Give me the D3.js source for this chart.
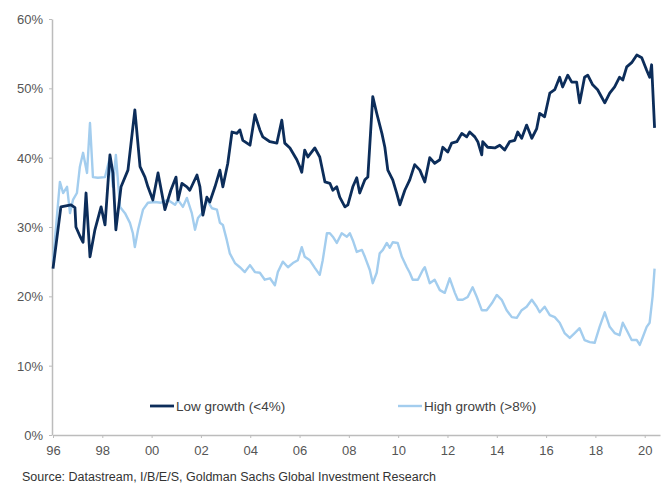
<!DOCTYPE html>
<html>
<head>
<meta charset="utf-8">
<script src="https://cdn.jsdelivr.net/npm/d3@7"></script>
<style>
  body { margin: 0; background: #fff; }
  text { font-family: "Liberation Sans", Arial, sans-serif; }
</style>
</head>
<body>
<svg id="chart"></svg>
<script>
// Low growth (<4%) share
const lowYears = [1996.00, 1996.32, 1996.73, 1996.89, 1996.93, 1997.09, 1997.22, 1997.34, 1997.50, 1997.70,
  1997.95, 1998.11, 1998.31, 1998.43, 1998.55, 1998.76, 1999.04, 1999.32, 1999.53, 1999.73,
  1999.85, 2000.05, 2000.26, 2000.54, 2000.78, 2000.99, 2001.07, 2001.23, 2001.43, 2001.55,
  2001.84, 2001.96, 2002.08, 2002.24, 2002.36, 2002.57, 2002.77, 2002.89, 2003.09, 2003.26,
  2003.46, 2003.58, 2003.70, 2003.99, 2004.19, 2004.39, 2004.51, 2004.80, 2005.08, 2005.28,
  2005.40, 2005.61, 2005.89, 2006.01, 2006.09, 2006.21, 2006.34, 2006.62, 2006.82, 2007.03,
  2007.23, 2007.35, 2007.51, 2007.63, 2007.84, 2007.96, 2008.16, 2008.32, 2008.44, 2008.65,
  2008.77, 2008.97, 2009.13, 2009.34, 2009.46, 2009.58, 2009.78, 2009.94, 2010.07, 2010.27,
  2010.47, 2010.67, 2010.88, 2011.08, 2011.28, 2011.48, 2011.69, 2011.81, 2012.01, 2012.17,
  2012.38, 2012.58, 2012.78, 2012.90, 2013.11, 2013.23, 2013.39, 2013.43, 2013.63, 2013.92,
  2014.12, 2014.32, 2014.52, 2014.73, 2014.85, 2015.01, 2015.21, 2015.42, 2015.62, 2015.74,
  2015.94, 2016.15, 2016.35, 2016.55, 2016.67, 2016.88, 2017.04, 2017.24, 2017.36, 2017.56,
  2017.69, 2017.89, 2018.09, 2018.38, 2018.58, 2018.78, 2018.98, 2019.11, 2019.27, 2019.47,
  2019.68, 2019.88, 2020.08, 2020.20, 2020.28, 2020.40];
const lowValues = [24.0, 32.9, 33.2, 32.8, 30.0, 28.7, 27.8, 34.9, 25.7, 29.6,
  32.9, 30.3, 40.4, 37.8, 29.6, 35.8, 38.2, 46.9, 38.7, 37.2,
  35.8, 33.9, 37.8, 32.5, 35.3, 37.2, 33.9, 36.3, 35.8, 35.3,
  37.5, 35.8, 31.7, 34.3, 33.6, 35.8, 38.2, 35.8, 39.2, 43.7,
  43.5, 44.0, 42.5, 41.8, 46.2, 44.0, 43.0, 42.3, 42.1, 45.4,
  42.1, 41.4, 39.7, 38.7, 37.9, 41.1, 40.1, 41.4, 40.1, 36.5,
  36.3, 35.3, 35.8, 34.3, 32.9, 33.2, 35.8, 37.1, 34.9, 36.8,
  37.2, 48.8, 46.4, 43.5, 41.5, 38.2, 36.8, 34.9, 33.2, 35.3,
  36.8, 39.0, 38.2, 36.5, 40.0, 39.2, 39.7, 41.5, 40.8, 42.1,
  42.3, 43.5, 43.0, 43.7, 43.0, 42.3, 40.4, 42.3, 41.5, 41.4,
  41.8, 41.1, 42.3, 42.5, 43.7, 42.8, 44.7, 42.8, 44.2, 46.4,
  45.9, 49.3, 49.8, 51.6, 50.2, 51.9, 50.9, 50.9, 47.9, 51.6,
  51.9, 50.5, 49.8, 47.9, 49.3, 50.2, 51.6, 51.2, 53.1, 53.7,
  54.8, 54.4, 52.6, 51.6, 53.4, 44.3];

// High growth (>8%) share
const highYears = [1996.00, 1996.28, 1996.41, 1996.57, 1996.69, 1996.81, 1996.97, 1997.09, 1997.22, 1997.38,
  1997.50, 1997.62, 1997.82, 1998.11, 1998.31, 1998.43, 1998.55, 1998.72, 1998.92, 1999.12,
  1999.24, 1999.32, 1999.45, 1999.65, 1999.85, 2000.13, 2000.38, 2000.66, 2000.95, 2001.07,
  2001.27, 2001.43, 2001.63, 2001.76, 2001.88, 2002.04, 2002.24, 2002.45, 2002.65, 2002.77,
  2002.89, 2003.05, 2003.17, 2003.38, 2003.58, 2003.78, 2003.99, 2004.19, 2004.39, 2004.59,
  2004.80, 2005.00, 2005.12, 2005.32, 2005.53, 2005.73, 2005.93, 2006.09, 2006.21, 2006.42,
  2006.62, 2006.82, 2006.94, 2007.11, 2007.23, 2007.35, 2007.51, 2007.71, 2007.92, 2008.04,
  2008.16, 2008.32, 2008.53, 2008.65, 2008.85, 2008.97, 2009.13, 2009.25, 2009.38, 2009.54,
  2009.66, 2009.78, 2009.98, 2010.15, 2010.35, 2010.47, 2010.59, 2010.80, 2011.00, 2011.08,
  2011.28, 2011.48, 2011.69, 2011.89, 2012.09, 2012.30, 2012.42, 2012.62, 2012.82, 2013.02,
  2013.19, 2013.39, 2013.59, 2013.80, 2014.00, 2014.20, 2014.40, 2014.61, 2014.81, 2015.01,
  2015.21, 2015.42, 2015.62, 2015.74, 2015.94, 2016.15, 2016.35, 2016.55, 2016.75, 2016.96,
  2017.16, 2017.36, 2017.56, 2017.77, 2017.97, 2018.17, 2018.38, 2018.58, 2018.78, 2018.98,
  2019.11, 2019.27, 2019.47, 2019.68, 2019.80, 2019.92, 2020.08, 2020.20, 2020.32, 2020.40];
const highValues = [25.0, 36.5, 34.9, 35.8, 32.0, 33.9, 34.9, 38.7, 40.7, 37.8,
  45.0, 37.2, 37.1, 37.2, 40.1, 35.8, 40.4, 32.9, 32.0, 30.6,
  29.1, 27.1, 29.6, 32.5, 33.5, 33.6, 33.5, 33.9, 33.2, 33.9,
  32.9, 34.2, 32.0, 29.6, 31.3, 32.0, 33.9, 32.7, 32.5, 30.6,
  30.3, 28.1, 26.2, 24.8, 24.2, 23.5, 24.5, 23.5, 23.4, 22.4,
  22.6, 21.6, 23.5, 25.0, 24.2, 24.8, 25.2, 27.1, 25.7, 25.2,
  24.1, 23.1, 25.2, 29.1, 29.1, 28.6, 27.7, 29.1, 28.6, 29.1,
  28.1, 26.4, 26.7, 25.7, 23.8, 21.9, 23.4, 26.2, 26.7, 27.7,
  27.0, 27.8, 27.7, 25.7, 24.2, 23.4, 22.4, 22.4, 23.8, 24.2,
  21.9, 22.4, 20.9, 20.5, 22.6, 20.5, 19.5, 19.5, 19.9, 21.3,
  19.9, 18.0, 18.0, 19.0, 20.2, 19.5, 18.0, 17.0, 16.9, 18.0,
  18.5, 19.5, 18.5, 17.7, 18.5, 17.3, 17.0, 16.2, 14.7, 14.0,
  14.7, 15.4, 13.7, 13.4, 13.3, 15.6, 17.7, 15.6, 14.7, 14.4,
  16.2, 15.1, 13.7, 13.7, 13.0, 14.1, 15.6, 16.2, 20.0, 24.0];

const yearTicks = [1996, 1998, 2000, 2002, 2004, 2006, 2008, 2010, 2012, 2014, 2016, 2018, 2020];
const pctTicks = [0, 10, 20, 30, 40, 50, 60];
const seriesNames = ["Low growth (<4%)", "High growth (>8%)"];
const seriesColors = ["#0c2d5a", "#a3cdee"];

const W = 669, H = 484;
const margin = { top: 19, right: 9, bottom: 49, left: 52 };

const svg = d3.select("#chart")
  .attr("width", W)
  .attr("height", H);

const x = d3.scaleLinear()
  .domain([1996, 2020.62])
  .range([margin.left + 1, W - margin.right]);

const y = d3.scaleLinear()
  .domain([0, 60])
  .range([H - margin.bottom, margin.top]);

// axes
const xAxis = svg.append("g")
  .attr("transform", `translate(0,${H - margin.bottom})`)
  .call(d3.axisBottom(x).tickValues(yearTicks).tickSize(3).tickSizeOuter(0)
    .tickFormat(d => String(d).slice(2)));

const yAxis = svg.append("g")
  .attr("transform", `translate(${margin.left},0)`)
  .call(d3.axisLeft(y).tickValues(pctTicks).tickSize(3).tickSizeOuter(0)
    .tickFormat(d => d + "%"));

[xAxis, yAxis].forEach(g => {
  g.select(".domain").attr("stroke", "#bcbcbc").attr("stroke-width", 1.5);
  g.selectAll(".tick line").attr("stroke", "#bcbcbc");
  g.selectAll(".tick text")
    .attr("fill", "#555")
    .style("font-size", "13px");
});
xAxis.selectAll(".tick text").attr("dy", "1.1em");
yAxis.selectAll(".tick text").attr("x", -9).attr("dy", "0.35em");

// lines
const line = d3.line()
  .x(d => x(d[0]))
  .y(d => y(d[1]));

const highData = highYears.map((yr, i) => [yr, highValues[i]]);
const lowData = lowYears.map((yr, i) => [yr, lowValues[i]]);

svg.append("path")
  .datum(highData)
  .attr("fill", "none")
  .attr("stroke", seriesColors[1])
  .attr("stroke-width", 2.4)
  .attr("stroke-linejoin", "round")
  .attr("d", line);

svg.append("path")
  .datum(lowData)
  .attr("fill", "none")
  .attr("stroke", seriesColors[0])
  .attr("stroke-width", 2.8)
  .attr("stroke-linejoin", "round")
  .attr("d", line);

// legend
const legendX = [150, 398];
const legend = svg.selectAll(".legend")
  .data(seriesNames)
  .enter()
  .append("g")
  .attr("class", "legend")
  .attr("transform", (d, i) => `translate(${legendX[i]},406)`);

legend.append("line")
  .attr("x1", 0)
  .attr("x2", 24)
  .attr("stroke", (d, i) => seriesColors[i])
  .attr("stroke-width", (d, i) => i === 0 ? 2.8 : 2.4);

legend.append("text")
  .attr("x", 26)
  .attr("dy", "0.35em")
  .attr("fill", "#404040")
  .style("font-size", "13.5px")
  .text(d => d);

// source note
svg.append("text")
  .attr("x", 22)
  .attr("y", 481)
  .attr("fill", "#333")
  .style("font-size", "12.5px")
  .text("Source: Datastream, I/B/E/S, Goldman Sachs Global Investment Research");
</script>
</body>
</html>
